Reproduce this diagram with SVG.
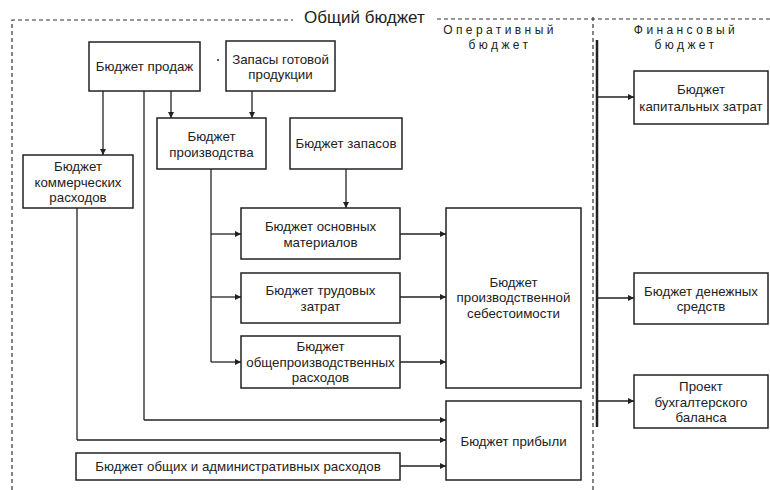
<svg xmlns="http://www.w3.org/2000/svg" width="770" height="490" viewBox="0 0 770 490">
<style>
.box{fill:#fff;stroke:#222;stroke-width:1.5}
.t{font-family:"Liberation Sans",Arial,sans-serif;font-size:13.3px;fill:#222;text-anchor:middle}
.h{font-family:"Liberation Sans",Arial,sans-serif;font-size:12px;fill:#222;text-anchor:middle;letter-spacing:3.4px}
.big{font-family:"Liberation Sans",Arial,sans-serif;font-size:17px;fill:#222}
.dash{fill:none;stroke:#333;stroke-width:1.2;stroke-dasharray:4 3}
.ln{fill:none;stroke:#222;stroke-width:1.3}
.ar{fill:none;stroke:#222;stroke-width:1.3;marker-end:url(#a)}
</style>
<defs>
<marker id="a" viewBox="0 0 10 10" refX="10" refY="5" markerWidth="8" markerHeight="6" markerUnits="userSpaceOnUse" orient="auto">
<path d="M0,0 L10,5 L0,10 z" fill="#222"/>
</marker>
</defs>
<rect width="770" height="490" fill="#fff"/>
<g id="frame">
<path class="dash" d="M12,490 V20 H293"/>
<path class="dash" d="M437,19 H770"/>
<path class="dash" d="M593,17 V490"/>
<line x1="597" y1="40" x2="597" y2="427" stroke="#222" stroke-width="2.5"/>
<text class="big" x="304" y="23">Общий бюджет</text>
<text class="h" x="500" y="34">Оперативный</text>
<text class="h" x="500" y="49">бюджет</text>
<text class="h" x="686" y="34">Финансовый</text>
<text class="h" x="686" y="49">бюджет</text>
<circle cx="218" cy="60" r="1" fill="#222"/>
</g>
<g id="connectors">
<path class="ar" d="M103,91 V155"/>
<path class="ln" d="M144,91 V420"/>
<path class="ar" d="M144,420 H446"/>
<path class="ar" d="M171,91 V118"/>
<path class="ar" d="M252,91 V118"/>
<path class="ln" d="M77,208 V440"/>
<path class="ar" d="M77,440 H446"/>
<path class="ar" d="M400,466 H446"/>
<path class="ln" d="M211,169 V362"/>
<path class="ar" d="M211,234 H241"/>
<path class="ar" d="M211,297 H241"/>
<path class="ar" d="M211,362 H241"/>
<path class="ar" d="M346,169 V208"/>
<path class="ar" d="M400,234 H446"/>
<path class="ar" d="M400,297 H446"/>
<path class="ar" d="M400,362 H446"/>
<path class="ar" d="M597,97 H634"/>
<path class="ar" d="M597,298 H634"/>
<path class="ar" d="M597,401 H634"/>
</g>
<g id="sales"><rect class="box" x="89" y="42" width="111" height="49"/><text class="t" x="144.5" y="71">Бюджет продаж</text></g>
<g id="finished"><rect class="box" x="226" y="41" width="109" height="50"/><text class="t" x="280.5" y="64">Запасы готовой</text><text class="t" x="280.5" y="79">продукции</text></g>
<g id="production"><rect class="box" x="157" y="118" width="109" height="51"/><text class="t" x="211.5" y="141">Бюджет</text><text class="t" x="211.5" y="157">производства</text></g>
<g id="inventory"><rect class="box" x="290" y="118" width="112" height="51"/><text class="t" x="346" y="148">Бюджет запасов</text></g>
<g id="commercial"><rect class="box" x="23" y="155" width="110" height="53"/><text class="t" x="78" y="171">Бюджет</text><text class="t" x="78" y="187">коммерческих</text><text class="t" x="78" y="202">расходов</text></g>
<g id="materials"><rect class="box" x="241" y="208" width="159" height="51"/><text class="t" x="320.5" y="231">Бюджет основных</text><text class="t" x="320.5" y="247">материалов</text></g>
<g id="labor"><rect class="box" x="241" y="273" width="159" height="50"/><text class="t" x="320.5" y="295">Бюджет трудовых</text><text class="t" x="320.5" y="311">затрат</text></g>
<g id="overhead"><rect class="box" x="241" y="336" width="159" height="52"/><text class="t" x="320.5" y="351">Бюджет</text><text class="t" x="320.5" y="367">общепроизводственных</text><text class="t" x="320.5" y="382">расходов</text></g>
<g id="cogs"><rect class="box" x="446" y="208" width="135" height="180"/><text class="t" x="513.5" y="287">Бюджет</text><text class="t" x="513.5" y="302">производственной</text><text class="t" x="513.5" y="318">себестоимости</text></g>
<g id="profit"><rect class="box" x="446" y="401" width="135" height="79"/><text class="t" x="513.5" y="446">Бюджет прибыли</text></g>
<g id="admin"><rect class="box" x="76" y="453" width="324" height="27"/><text class="t" x="238" y="471">Бюджет общих и административных расходов</text></g>
<g id="capital"><rect class="box" x="634" y="71" width="134" height="53"/><text class="t" x="701" y="94">Бюджет</text><text class="t" x="701" y="111">капитальных затрат</text></g>
<g id="cash"><rect class="box" x="634" y="273" width="134" height="51"/><text class="t" x="701" y="296">Бюджет денежных</text><text class="t" x="701" y="311">средств</text></g>
<g id="balance"><rect class="box" x="634" y="375" width="134" height="53"/><text class="t" x="701" y="391">Проект</text><text class="t" x="701" y="407">бухгалтерского</text><text class="t" x="701" y="422">баланса</text></g>
</svg>
